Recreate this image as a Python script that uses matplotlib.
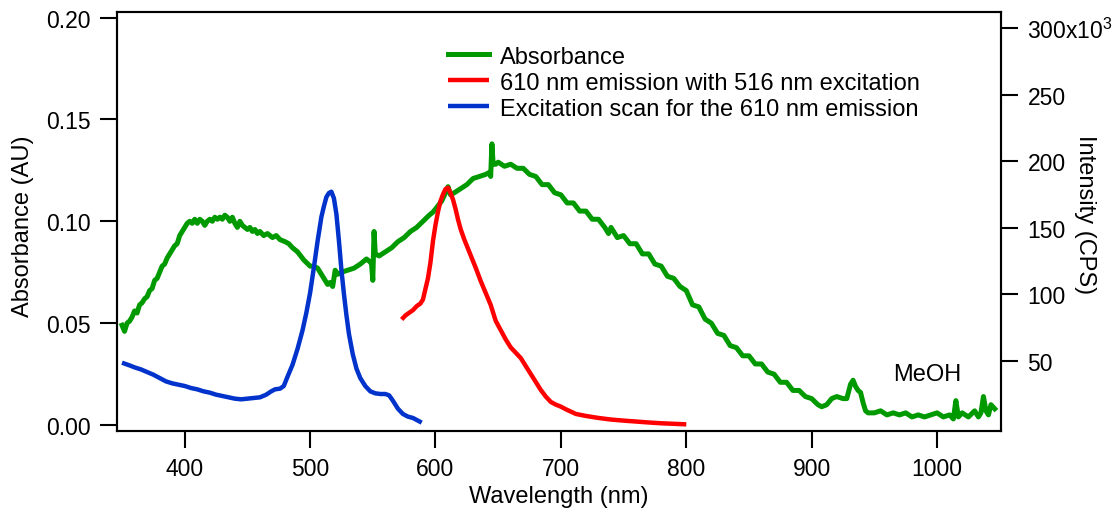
import matplotlib
matplotlib.use("Agg")
import matplotlib.pyplot as plt
from matplotlib.ticker import FixedLocator, FuncFormatter

plt.rcParams["font.family"] = ["Liberation Sans", "DejaVu Sans"]
plt.rcParams["mathtext.fontset"] = "custom"
plt.rcParams["mathtext.rm"] = "Liberation Sans"
FS = 17
plt.rcParams["font.size"] = FS

# Absorbance spectrum in MeOH (wavelength nm, absorbance AU)
abs_wl = [350, 352, 354, 356, 358, 360, 362, 364, 366, 368, 370, 372, 374, 376, 378,
          380, 382, 384, 386, 388, 390, 392, 394, 396, 398, 400, 402, 404, 406, 408,
          410, 412, 414, 416, 418, 420, 422, 424, 426, 428, 430, 432, 434, 436, 438,
          440, 442, 444, 446, 448, 450, 452, 454, 456, 458, 460, 463, 466, 470, 473,
          476, 480, 483, 486, 490, 495, 500, 503, 506, 509, 512, 514, 516, 518, 519,
          520, 522, 525, 530, 535, 540, 545, 548, 549, 550, 551, 552, 555, 560, 565,
          570, 575, 580, 585, 590, 595, 598, 600, 605, 608, 610, 612, 615, 620, 625,
          630, 635, 640, 643, 644, 645, 646, 648, 650, 655, 660, 665, 670, 675, 680,
          685, 690, 695, 700, 705, 710, 715, 720, 725, 730, 735, 738, 740, 745, 750,
          755, 760, 765, 770, 775, 780, 785, 790, 795, 800, 805, 810, 815, 820, 825,
          830, 835, 840, 845, 850, 855, 860, 865, 870, 875, 880, 885, 890, 895, 900,
          905, 908, 912, 916, 920, 925, 928, 931, 933, 935, 937, 939, 941, 943, 945,
          950, 955, 960, 965, 970, 975, 980, 985, 990, 995, 1000, 1005, 1010, 1013,
          1015, 1017, 1020, 1025, 1030, 1033, 1035, 1037, 1039, 1041, 1043, 1046]
abs_val = [0.049, 0.046, 0.050, 0.051, 0.053, 0.056, 0.055, 0.059, 0.060, 0.062, 0.063,
           0.066, 0.067, 0.071, 0.072, 0.075, 0.078, 0.079, 0.082, 0.084, 0.086, 0.088,
           0.089, 0.093, 0.095, 0.097, 0.099, 0.100, 0.099, 0.101, 0.099, 0.101, 0.100,
           0.098, 0.100, 0.101, 0.100, 0.102, 0.101, 0.102, 0.101, 0.103, 0.102, 0.100,
           0.102, 0.099, 0.097, 0.100, 0.098, 0.097, 0.096, 0.097, 0.095, 0.096, 0.094,
           0.095, 0.093, 0.094, 0.092, 0.093, 0.091, 0.090, 0.089, 0.087, 0.085, 0.081,
           0.078, 0.078, 0.077, 0.074, 0.071, 0.069, 0.070, 0.068, 0.072, 0.076, 0.074,
           0.075, 0.076, 0.077, 0.079, 0.0815, 0.080, 0.079, 0.071, 0.095, 0.084, 0.083,
           0.085, 0.087, 0.090, 0.092, 0.095, 0.097, 0.100, 0.103, 0.1045, 0.106, 0.110,
           0.114, 0.117, 0.113, 0.114, 0.116, 0.118, 0.121, 0.122, 0.123, 0.124, 0.122,
           0.138, 0.128, 0.128, 0.129, 0.127, 0.128, 0.126, 0.126, 0.123, 0.122, 0.118,
           0.118, 0.114, 0.113, 0.109, 0.109, 0.105, 0.105, 0.101, 0.101, 0.097, 0.094,
           0.097, 0.092, 0.093, 0.089, 0.089, 0.084, 0.084, 0.079, 0.078, 0.073, 0.072,
           0.068, 0.066, 0.059, 0.058, 0.052, 0.050, 0.045, 0.044, 0.039, 0.038, 0.034,
           0.034, 0.030, 0.030, 0.026, 0.025, 0.021, 0.021, 0.017, 0.017, 0.014, 0.013,
           0.010, 0.009, 0.010, 0.013, 0.014, 0.013, 0.013, 0.020, 0.022, 0.019, 0.017,
           0.016, 0.011, 0.007, 0.006, 0.006, 0.007, 0.005, 0.006, 0.005, 0.006, 0.004,
           0.005, 0.004, 0.005, 0.006, 0.004, 0.005, 0.003, 0.012, 0.004, 0.006, 0.004,
           0.007, 0.004, 0.006, 0.014, 0.007, 0.005, 0.010, 0.008]

# 610 nm emission with 516 nm excitation (wavelength nm, intensity kCPS)
em_wl = [573, 576, 579, 582, 585, 588, 590, 592, 594, 596, 598, 600, 602, 604, 606,
         608, 610, 612, 614, 616, 618, 620, 623, 626, 629, 632, 636, 640, 644, 648,
         652, 656, 660, 664, 668, 672, 676, 680, 684, 688, 692, 696, 700, 704, 712,
         720, 730, 740, 750, 760, 770, 780, 790, 800]
em_val = [81, 84, 86, 88, 91, 93, 96, 104, 112, 124, 140, 152, 162, 170, 175,
          179, 180, 176, 171, 164, 156, 149, 141, 134, 127, 120, 110, 101, 92, 80,
          73, 66, 60, 56, 52, 46, 40, 34, 28, 23, 19, 17, 15.5, 13.5, 10,
          8.5, 7, 5.8, 5, 4.3, 3.6, 3, 2.6, 2.2]

# Excitation scan monitored at 610 nm (wavelength nm, intensity kCPS)
ex_wl = [350, 353, 356, 360, 365, 370, 375, 380, 385, 390, 395, 400, 405, 410, 415,
         420, 425, 430, 435, 440, 445, 450, 455, 460, 465, 469, 472, 476, 479, 482,
         486, 490, 494, 497, 500, 503, 506, 509, 511, 513, 515, 517, 519, 521, 523,
         525, 527, 529, 531, 534, 537, 540, 544, 548, 552, 556, 560, 563, 566, 570,
         574, 578, 582, 586, 589]
ex_val = [48.5, 47.5, 46.5, 45, 43.5, 41.5, 39.5, 37, 34.5, 33, 32, 31, 29.5, 28.5, 27,
          26, 24.5, 23.5, 22.5, 21.5, 21, 21.5, 22, 22.5, 24.5, 27, 28.5, 29, 31, 38,
          47, 59, 73, 86, 101, 120, 140, 158, 166, 173, 176, 177, 172, 160, 140,
          118, 100, 84, 70, 55, 44, 37, 31, 27, 25.5, 25, 25, 24, 20, 14,
          10, 8, 7, 5, 3.5]

series_labels = ["Absorbance", "610 nm emission with 516 nm excitation",
                 "Excitation scan for the 610 nm emission"]
abs_ticks = [0.00, 0.05, 0.10, 0.15, 0.20]
int_ticks = [50, 100, 150, 200, 250, 300]
wl_ticks = [400, 500, 600, 700, 800, 900, 1000]

GREEN = "#009a00"
RED = "#ff0000"
BLUE = "#0033cc"

fig = plt.figure(figsize=(11.18, 5.10), dpi=100)
ax = fig.add_axes([117 / 1118, 1 - 432 / 510, (1001 - 117) / 1118, (432 - 13) / 510])
ax2 = ax.twinx()

l1, = ax.plot(abs_wl, abs_val, color=GREEN, lw=3.6, solid_joinstyle="round")
l2, = ax2.plot(em_wl, em_val, color=RED, lw=3.2, solid_capstyle="butt")
l3, = ax2.plot(ex_wl, ex_val, color=BLUE, lw=3.2, solid_capstyle="butt")

ax.set_xlim(346, 1051)
ax.set_ylim(-0.0029, 0.2027)
ax2.set_ylim(-2.8, 312)

ax.xaxis.set_major_locator(FixedLocator(wl_ticks))
ax.yaxis.set_major_locator(FixedLocator(abs_ticks))
ax.yaxis.set_major_formatter(FuncFormatter(lambda v, p: f"{v:.2f}"))
ax2.yaxis.set_major_locator(FixedLocator(int_ticks))
ax2.yaxis.set_major_formatter(
    FuncFormatter(lambda v, p: r"300x10$^{3}$" if v == 300 else f"{v:.0f}"))

for a in (ax, ax2):
    a.tick_params(direction="out", length=12, width=1.5, pad=7, labelsize=16.5)
    for s in a.spines.values():
        s.set_linewidth(1.5)

ax.set_xlabel("Wavelength (nm)", fontsize=FS, labelpad=3)
ax.set_ylabel("Absorbance (AU)", fontsize=FS)
ax.yaxis.set_label_coords(-0.094, 0.49)
ax2.set_ylabel("Intensity (CPS)", fontsize=FS, rotation=270)
ax2.yaxis.set_label_coords(1.108, 0.52)

ax.text(965, 0.025, "MeOH", fontsize=FS, ha="left", va="center")

fig.legend([l1, l2, l3], series_labels, loc="upper left",
           bbox_to_anchor=(448 / 1118, 1 - 46.5 / 510), frameon=False,
           handlelength=1.75, handletextpad=0.45, labelspacing=0.17,
           borderpad=0, borderaxespad=0, fontsize=FS)

fig.savefig("out.png", dpi=100)
